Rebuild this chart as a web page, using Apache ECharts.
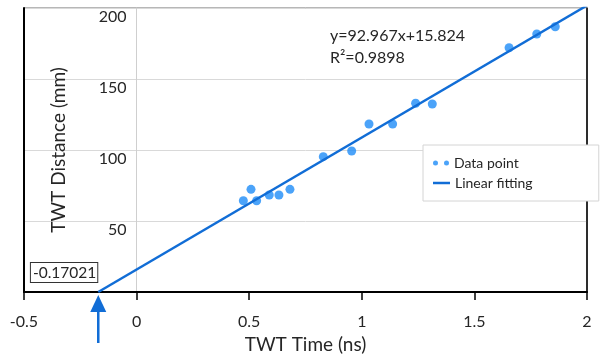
<!DOCTYPE html>
<html>
<head>
<meta charset="utf-8">
<script src="https://cdn.jsdelivr.net/npm/echarts@6/dist/echarts.min.js"></script>
<style>html,body{margin:0;padding:0;background:#fff}#c{width:605px;height:360px}</style>
</head>
<body>
<div id="c"></div>
<script>
// ---- data ----
var timeNs = [0.474, 0.508, 0.533, 0.589, 0.632, 0.681, 0.829, 0.955, 1.032, 1.137, 1.239, 1.313, 1.654, 1.777, 1.859];
var distanceMm = [64.3, 72.3, 64.3, 68.3, 68.3, 72.3, 95.3, 99.3, 118.3, 118.3, 132.9, 132.4, 172.0, 181.7, 186.8];
var fitX = [-0.17021, 2];
var fitY = [0, 201.758];
var equationText = 'y=92.967x+15.824';
var r2Text = 'R\u00B2=0.9898';
var interceptLabel = '-0.17021';
var interceptX = -0.17021;
var seriesNames = ['Data point', 'Linear fitting'];
var xTitle = 'TWT Time (ns)';
var yTitle = 'TWT Distance (mm)';

var FONT = 'Lato';
var TXT = '#262626';
var lineColor = '#116dd6';
var dotColor = '#1e8cf8';
var GRID_LEFT = 24;

var points = timeNs.map(function (t, i) { return [t, distanceMm[i]]; });
var fitLine = fitX.map(function (x, i) { return [x, fitY[i]]; });

var chart = echarts.init(document.getElementById('c'), null, {renderer: 'canvas'});
var option = {
  animation: false,
  textStyle: {fontFamily: FONT, color: TXT},
  grid: {left: GRID_LEFT, right: 18, top: 8, bottom: 68, show: true, borderColor: '#6e6e6e', borderWidth: 1,
    containLabel: false, outerBoundsMode: 'none'},
  xAxis: {
    type: 'value', min: -0.5, max: 2, interval: 0.5,
    name: xTitle, nameLocation: 'middle', nameGap: 42,
    nameTextStyle: {fontFamily: FONT, fontSize: 19, color: TXT},
    axisLine: {onZero: false, lineStyle: {color: '#000', width: 2}},
    axisTick: {show: true, inside: false, length: 8, lineStyle: {color: '#000', width: 1.5}},
    axisLabel: {fontFamily: FONT, fontSize: 16, color: TXT, margin: 22},
    splitLine: {show: false}
  },
  yAxis: [{
    type: 'value', min: 0, max: 200, interval: 50, position: 'left', offset: 0,
    name: yTitle, nameLocation: 'middle', nameGap: 68,
    nameTextStyle: {fontFamily: FONT, fontSize: 19, color: TXT},
    axisLine: {show: true, onZero: false, lineStyle: {color: '#cfcfcf', width: 1}},
    axisTick: {show: false},
    axisLabel: {fontFamily: FONT, fontSize: 16, color: TXT, margin: 10, verticalAlign: 'top', padding: [1, 0, 0, 0], showMinLabel: false,
      formatter: function (v) { return v === 0 ? '' : String(v); }},
    splitLine: {show: true, lineStyle: {color: '#d9d9d9', width: 1}}
  }, {
    type: 'value', min: 0, max: 200, position: 'left', offset: 0,
    axisLine: {show: true, onZero: false, lineStyle: {color: '#000', width: 2}},
    axisTick: {show: false}, axisLabel: {show: false}, splitLine: {show: false}
  }, {
    type: 'value', min: 0, max: 200, position: 'right', offset: 0,
    axisLine: {show: true, onZero: false, lineStyle: {color: '#000', width: 1.5}},
    axisTick: {show: false}, axisLabel: {show: false}, splitLine: {show: false}
  }],
  legend: [{
    orient: 'vertical', left: 423, top: 145, width: 117, height: 38,
    padding: [11, 80, 31, 10], itemWidth: 16, itemHeight: 5,
    backgroundColor: '#fff', borderColor: '#d4d4d4', borderWidth: 1,
    textStyle: {fontFamily: FONT, fontSize: 14, color: TXT},
    data: [
      {name: seriesNames[0], icon: 'path://M0,2.5a2.5,2.5 0 1,0 5,0a2.5,2.5 0 1,0 -5,0M11,2.5a2.5,2.5 0 1,0 5,0a2.5,2.5 0 1,0 -5,0'}
    ]
  }, {
    orient: 'vertical', left: 423, top: 172, padding: [4, 10, 4, 10],
    itemWidth: 17, itemHeight: 2.5, icon: 'rect',
    textStyle: {fontFamily: FONT, fontSize: 14, color: TXT},
    data: [{name: seriesNames[1], icon: 'rect'}]
  }],
  series: [{
    name: seriesNames[0], type: 'scatter', data: points, symbolSize: 9,
    itemStyle: {color: dotColor}, z: 2
  }, {
    name: seriesNames[1], type: 'line', data: fitLine, showSymbol: false, symbol: 'none', clip: true,
    lineStyle: {color: lineColor, width: 2.5}, itemStyle: {color: lineColor}, z: 3
  }]
};
chart.setOption(option);

// move the labelled y axis so it crosses the x axis at x = 0
var p0 = chart.convertToPixel({xAxisIndex: 0}, 0);
chart.setOption({yAxis: [{offset: -(p0 - GRID_LEFT)}, {}, {}]});

var px = chart.convertToPixel({xAxisIndex: 0, yAxisIndex: 0}, [interceptX, 0]);
chart.setOption({
  graphic: [
    {type: 'text', left: 330, top: 25, style: {text: equationText + '\n' + r2Text, fontFamily: FONT, fontSize: 16, lineHeight: 22, fill: TXT}},
    {type: 'text', x: px[0] - 1, y: px[1] - 10, style: {text: interceptLabel, fontFamily: FONT, fontSize: 15.5, fill: TXT, align: 'right', verticalAlign: 'bottom',
      borderColor: '#333', borderWidth: 1, padding: [2, 1, 1, 2], backgroundColor: '#fff'}},
    {type: 'line', shape: {x1: px[0], y1: px[1] + 18, x2: px[0], y2: px[1] + 51}, style: {stroke: lineColor, lineWidth: 2.5}},
    {type: 'polygon', shape: {points: [[px[0], px[1] + 3], [px[0] - 8, px[1] + 20], [px[0] + 8, px[1] + 20]]}, style: {fill: lineColor}}
  ]
});
</script>
</body>
</html>
